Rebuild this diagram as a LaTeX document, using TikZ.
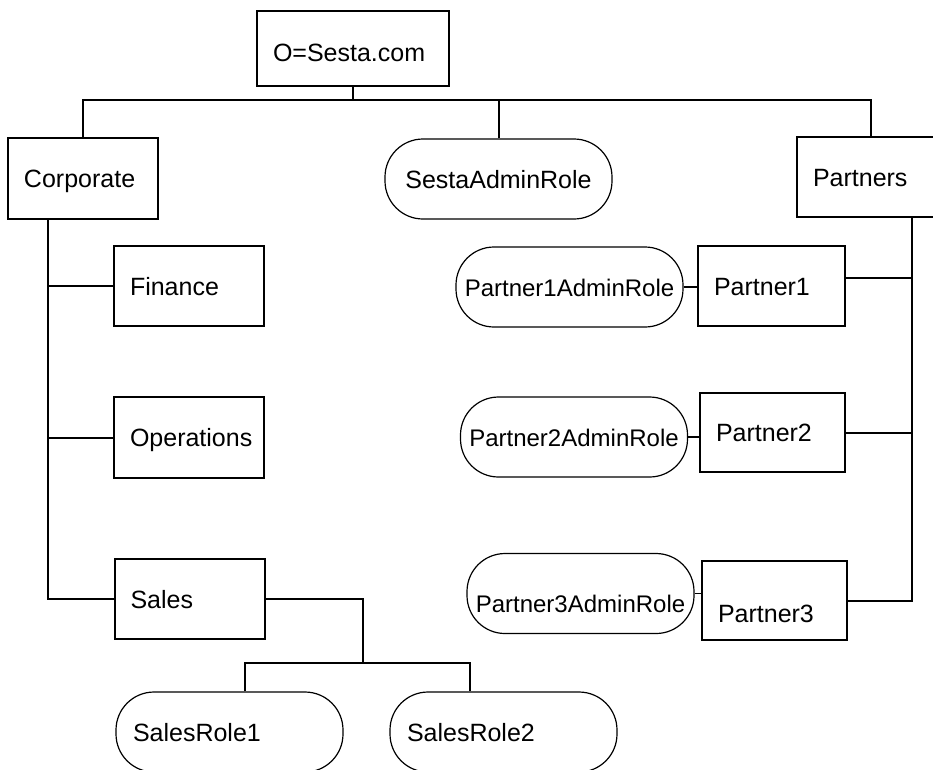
\documentclass[tikz,border=0pt]{standalone}
\usepackage{fontspec}
\setmainfont{Liberation Sans}
\usepackage{tikz}

\tikzset{
  orgunit/.style={draw, line width=2pt, inner sep=0pt, minimum height=80pt,
    text height=18pt, text depth=0pt, align=left,
    execute at begin node={\hspace*{16pt}}},
  orgrole/.style={draw, line width=1.2pt, rounded corners=38pt, inner sep=0pt,
    minimum width=227pt, minimum height=80pt, text height=18pt, text depth=0pt},
  leftrole/.style={orgrole, text width=227pt, align=left,
    execute at begin node={\hspace*{17pt}}},
  link/.style={line width=2pt},
  thinlink/.style={line width=1.4pt},
}

\begin{document}
\begin{tikzpicture}[x=1pt, y=-1pt, every node/.style={font=\fontsize{25pt}{30pt}\selectfont}]
        \useasboundingbox (0,0) rectangle (933,769);
        \clip (0,0) rectangle (933,769);
        % organisation and its units
        \node[orgunit, text width=192pt, minimum height=75pt, text height=25pt] (sesta) at (353,48.5) {O=Sesta.com};
        \node[orgunit, text width=150pt, minimum height=81pt] (corporate) at (83,178.5) {Corporate};
        \node[orgunit, text width=150pt] (finance) at (189,286) {Finance};
        \node[orgunit, text width=150pt, minimum height=81pt] (operations) at (189,437.5) {Operations};
        \node[orgunit, text width=150pt] (sales) at (189.5,599) {Sales};
        \node[orgunit, text width=148pt] (partners) at (871,177) {Partners};
        \node[orgunit, text width=147pt] (partner1) at (771.5,286) {Partner1};
        \node[orgunit, text width=145pt, minimum height=79pt] (partner2) at (772.5,432.5) {Partner2};
        \node[orgunit, text width=145pt, minimum height=79pt, text height=44pt] (partner3) at (774.5,600.5) {Partner3};
        % roles
        \node[orgrole] (sestaadmin) at (498.5,179) {SestaAdminRole};
        \node[orgrole, font=\fontsize{24pt}{29pt}\selectfont] (p1admin) at (569.5,287) {Partner1AdminRole};
        \node[orgrole, font=\fontsize{24pt}{29pt}\selectfont] (p2admin) at (574,437) {Partner2AdminRole};
        \node[orgrole, font=\fontsize{24pt}{29pt}\selectfont, text height=38pt] (p3admin) at (580.5,593.5) {Partner3AdminRole};
        \node[leftrole] (salesrole1) at (229.5,732) {SalesRole1};
        \node[leftrole] (salesrole2) at (503.5,732) {SalesRole2};
        % top level bus
        \coordinate (bus) at (353,100);
        \draw[link] (sesta.south) -- (bus);
        \draw[link] (corporate.north) |- (bus) -| (partners.north);
        \draw[link] (sestaadmin.north) -- (sestaadmin.north |- bus);
        % corporate units
        \coordinate (ctrunk) at ([xshift=41pt]corporate.south west);
        \draw[link] (ctrunk) |- (sales.west);
        \draw[link] (finance.west) -- (finance.west -| ctrunk);
        \draw[link] (operations.west) -- (operations.west -| ctrunk);
        % partner units
        \coordinate (ptrunk) at ([xshift=116pt]partners.south west);
        \draw[link] (ptrunk) |- (partner3.east);
        \draw[link] ([yshift=8pt]partner1.east) -- ([yshift=8pt]partner1.east -| ptrunk);
        \draw[link] (partner2.east) -- (partner2.east -| ptrunk);
        \draw[thinlink] (p1admin.east) -- (p1admin.east -| partner1.west);
        \draw[thinlink] (p2admin.east) -- (p2admin.east -| partner2.west);
        \draw[thinlink] (p3admin.east) -- (p3admin.east -| partner3.west);
        % sales roles
        \coordinate (salesjoin) at (363,663);
        \draw[link] (sales.east) -| (salesjoin);
        \draw[link] ([xshift=15.5pt]salesrole1.north) |- (salesjoin) -| ([xshift=-33.5pt]salesrole2.north);
\end{tikzpicture}
\end{document}
